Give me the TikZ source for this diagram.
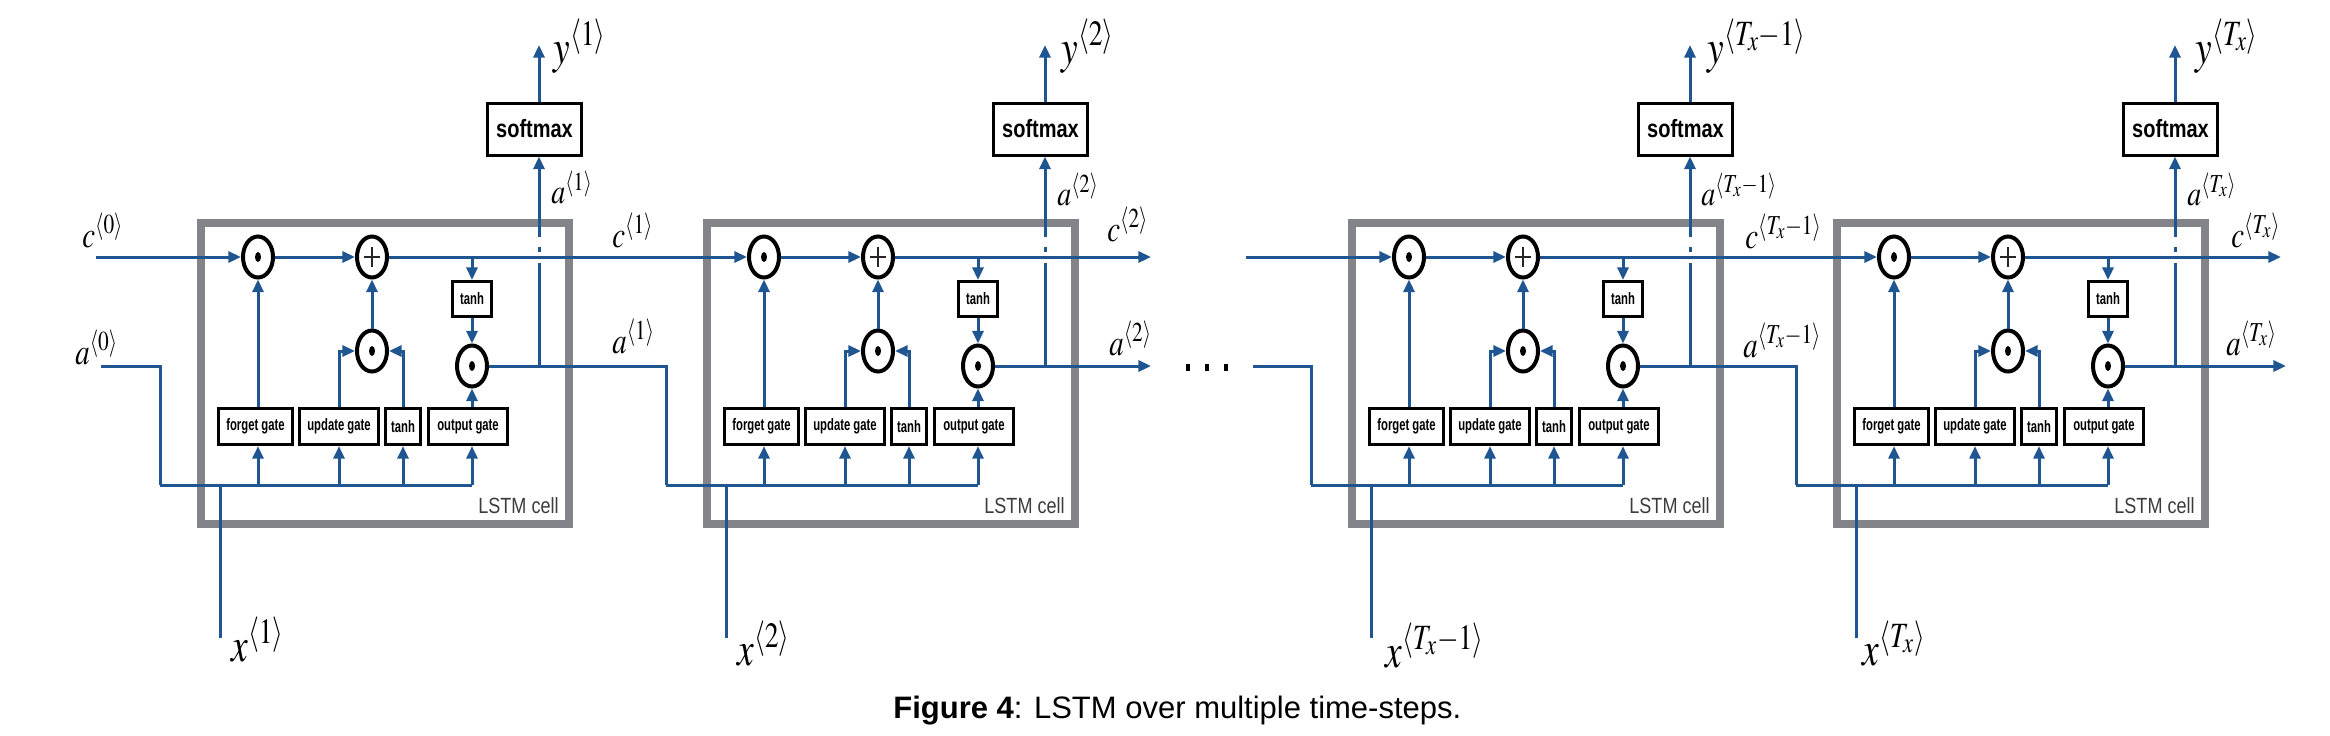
\documentclass[tikz,border=0pt]{standalone}
\usepackage{mathptmx}
\usepackage{fontspec}
\newfontfamily\arialf{Liberation Sans}
\usetikzlibrary{arrows.meta,shapes.geometric}
\definecolor{lblue}{RGB}{31,86,145}
\definecolor{cellgray}{RGB}{130,132,137}
\definecolor{labgray}{RGB}{60,60,60}
\newcommand{\smlab}[1]{\scalebox{0.78}[1]{\fontsize{18.5}{20}\selectfont$#1$}}
\newcommand{\toplab}[1]{\scalebox{0.8}[1]{\fontsize{17.5}{19}\selectfont$#1$}}
\newcommand{\bglab}[1]{\scalebox{0.78}[1]{\fontsize{24}{26}\selectfont$#1$}}
\newcommand{\gtxt}[1]{\scalebox{0.68}[1]{#1}}
\begin{document}
\begin{tikzpicture}[x=0.5pt,y=-0.5pt,
  wire/.style={draw=lblue, line width=1.5pt},
  arr/.style={wire, -{Triangle[length=6.3pt,width=5.5pt]}},
  op/.style={ellipse, draw=black, line width=2pt, minimum width=15pt, minimum height=20.5pt, inner sep=0pt, fill=white},
  mult/.style={op, path picture={\fill[black] (path picture bounding box.center) ellipse (1.5pt and 2.5pt);}},
  addop/.style={op, path picture={\draw[line width=0.8pt,black!85]
      ([xshift=-4.2pt]path picture bounding box.center) -- ([xshift=4.2pt]path picture bounding box.center)
      ([yshift=-4.8pt]path picture bounding box.center) -- ([yshift=4.8pt]path picture bounding box.center);}},
  cellbox/.style={draw=cellgray, line width=4pt, minimum width=184pt, minimum height=150.5pt, inner sep=0pt},
  lstm/.style={font=\arialf\fontsize{11}{12}\selectfont, text=labgray, inner sep=0pt},
  gate/.style={draw=black, line width=1.6pt, minimum height=18pt, inner sep=0pt, fill=white, font=\arialf\bfseries\fontsize{8.3}{9}\selectfont},
  smbox/.style={draw=black, line width=1.5pt, minimum width=19.5pt, minimum height=17.5pt, inner sep=0pt, fill=white, font=\arialf\bfseries\fontsize{8.3}{9}\selectfont},
  softbox/.style={draw=black, line width=1.5pt, minimum width=47pt, minimum height=26pt, inner sep=0pt, fill=white, font=\arialf\bfseries\fontsize{12.5}{13}\selectfont},
  lab/.style={inner sep=0pt, anchor=base west},
  captxt/.style={inner sep=0pt, anchor=base west, font=\arialf\fontsize{15.5}{17}\selectfont}
]
\useasboundingbox (0,0) rectangle (2330,735);

% cell frames
\foreach \i/\dx in {1/0,2/506,3/1151,4/1636}{
  \begin{scope}[shift={(\dx,0)}]
    \node[cellbox] (box\i) at (385,373.5) {};
    \node[lstm, anchor=base east] (lab\i) at (559,513) {\scalebox{0.82}[1]{LSTM cell}};
  \end{scope}
}

% cell contents
\foreach \i/\dx in {1/0,2/506,3/1151,4/1636}{
  \begin{scope}[shift={(\dx,0)}]
    \node[mult] (f\i) at (258,257) {};
    \node[addop] (p\i) at (372,257) {};
    \node[mult] (u\i) at (372,351) {};
    \node[smbox] (th\i) at (472,299) {\gtxt{tanh}};
    \node[mult] (o\i) at (472,366) {};
    \node[gate, minimum width=36.9pt] (fg\i) at (255.5,426.5) {\gtxt{forget gate}};
    \node[gate, minimum width=39.4pt] (ug\i) at (339,426.5) {\gtxt{update gate}};
    \node[gate, minimum width=17.4pt] (tg\i) at (403,426.5) {\gtxt{tanh}};
    \node[gate, minimum width=39.4pt] (og\i) at (468,426.5) {\gtxt{output gate}};
    \node[softbox] (sm\i) at (534.5,129) {\scalebox{0.8}[1]{softmax}};
    \coordinate (tj\i) at (472,257);
    \coordinate (aj\i) at (539,366);
    \coordinate (ga\i) at (539,263);
    \coordinate (gc\i) at (539,252);
    \coordinate (gd\i) at (539,247);
    \coordinate (gb\i) at (539,237);
    \coordinate (yt\i) at (539,45);
    \coordinate (bus\i) at (160,485);
    \coordinate (xb\i) at (220,638);
    \coordinate (xj\i) at (220,485);
  \end{scope}
  \draw[arr] (f\i) -- (p\i);
  \draw[arr] (u\i) -- (p\i);
  \draw[arr] (tj\i) -- (th\i);
  \draw[arr] (th\i) -- (o\i);
  \draw[arr] (o\i |- og\i.north) -- (o\i);
  \draw[arr] (f\i |- fg\i.north) -- (f\i);
  \draw[arr] (ug\i.north) |- (u\i);
  \draw[arr] (tg\i.north) |- (u\i);
  \draw[wire] (bus\i) -- (bus\i -| o\i);
  \draw[arr] (f\i |- bus\i) -- (f\i |- fg\i.south);
  \draw[arr] (ug\i.south |- bus\i) -- (ug\i.south);
  \draw[arr] (tg\i.south |- bus\i) -- (tg\i.south);
  \draw[arr] (o\i |- bus\i) -- (o\i |- og\i.south);
  \draw[wire] (xb\i) -- (xj\i);
  \draw[wire] (o\i) -- (aj\i);
  \draw[wire] (aj\i) -- (ga\i);
  \draw[wire] (gc\i) -- (gd\i);
  \draw[arr] (gb\i) -- (sm\i.south -| aj\i);
  \draw[arr] (sm\i.north -| aj\i) -- (yt\i);
}

% connections between cells
\coordinate (c0s) at (96,257);
\coordinate (a0s) at (101,366);
\draw[arr] (c0s) -- (f1);
\draw[wire] (a0s) -| (bus1);
\draw[arr] (p1) -- (f2);
\draw[wire] (aj1) -| (bus2);
\coordinate (c2e) at (1151,257);
\coordinate (a2e) at (1151,366);
\draw[arr] (p2) -- (c2e);
\draw[arr] (aj2) -- (a2e);
\coordinate (c3s) at (1246,257);
\coordinate (a3s) at (1253,366);
\draw[arr] (c3s) -- (f3);
\draw[wire] (a3s) -| (bus3);
\draw[arr] (p3) -- (f4);
\draw[wire] (aj3) -| (bus4);
\coordinate (c4e) at (2281,257);
\coordinate (a4e) at (2286,366);
\draw[arr] (p4) -- (c4e);
\draw[arr] (aj4) -- (a4e);

% ellipsis dots
\foreach \xx in {1188,1207,1226}{
  \fill[black] (\xx-2,363.5) rectangle (\xx+2,370.5);
}

% labels
\node[lab] (lc0) at (82,247) {\smlab{c^{\langle 0\rangle}}};
\node[lab] (la0) at (75,364) {\smlab{a^{\langle 0\rangle}}};
\node[lab] (ly1) at (553,63) {\bglab{y^{\langle 1\rangle}}};
\node[lab] (lat1) at (551,203) {\toplab{a^{\langle 1\rangle}}};
\node[lab] (lc1) at (612,247) {\smlab{c^{\langle 1\rangle}}};
\node[lab] (la1) at (612,353) {\smlab{a^{\langle 1\rangle}}};
\node[lab] (lx1) at (231,661) {\bglab{x^{\langle 1\rangle}}};

\node[lab] (ly2) at (1061,63) {\bglab{y^{\langle 2\rangle}}};
\node[lab] (lat2) at (1057,205) {\toplab{a^{\langle 2\rangle}}};
\node[lab] (lc2) at (1107,241) {\smlab{c^{\langle 2\rangle}}};
\node[lab] (la2) at (1109,355) {\smlab{a^{\langle 2\rangle}}};
\node[lab] (lx2) at (737,665) {\bglab{x^{\langle 2\rangle}}};

\node[lab] (ly3) at (1707,63) {\bglab{y^{\langle T_x{-}1\rangle}}};
\node[lab] (lat3) at (1701,205) {\toplab{a^{\langle T_x{-}1\rangle}}};
\node[lab] (lc3) at (1745,248) {\smlab{c^{\langle T_x{-}1\rangle}}};
\node[lab] (la3) at (1743,357) {\smlab{a^{\langle T_x{-}1\rangle}}};
\node[lab] (lx3) at (1385,667) {\bglab{x^{\langle T_x{-}1\rangle}}};

\node[lab] (ly4) at (2195,63) {\bglab{y^{\langle T_x\rangle}}};
\node[lab] (lat4) at (2187,205) {\toplab{a^{\langle T_x\rangle}}};
\node[lab] (lc4) at (2231,247) {\smlab{c^{\langle T_x\rangle}}};
\node[lab] (la4) at (2226,355) {\smlab{a^{\langle T_x\rangle}}};
\node[lab] (lx4) at (1862,665) {\bglab{x^{\langle T_x\rangle}}};

% caption
\node[captxt] (caption) at (893,718) {\textbf{Figure 4}: LSTM over multiple time-steps.};
\end{tikzpicture}
\end{document}
